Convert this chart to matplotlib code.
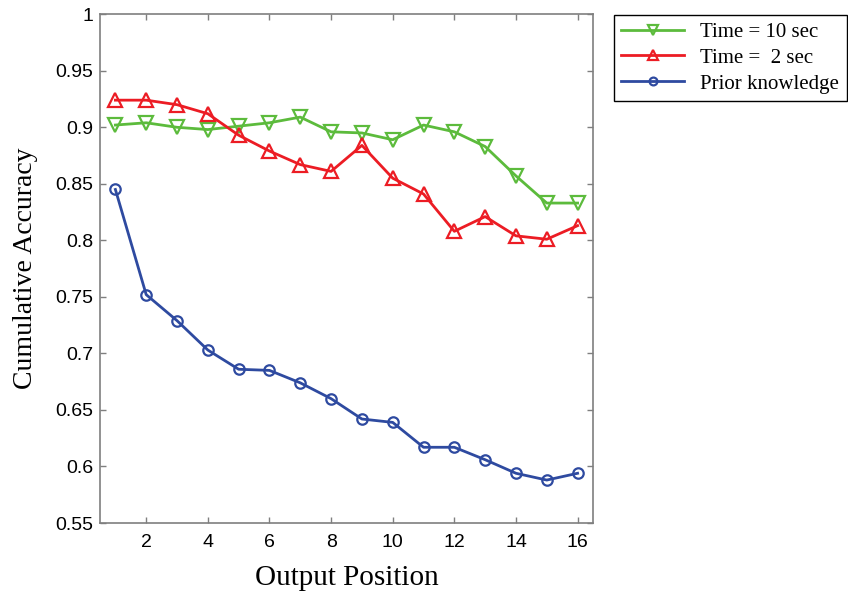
import matplotlib
matplotlib.use("Agg")

import matplotlib.pyplot as plt

positions = list(range(1, 17))

# Time = 10 sec
acc_10s = [0.902, 0.904, 0.900, 0.898, 0.901, 0.904, 0.909, 0.896,
           0.895, 0.889, 0.902, 0.896, 0.883, 0.857, 0.833, 0.833]
# Time = 2 sec
acc_2s = [0.924, 0.924, 0.920, 0.912, 0.893, 0.879, 0.867, 0.861,
          0.884, 0.855, 0.841, 0.808, 0.821, 0.804, 0.801, 0.813]
# Prior knowledge
acc_prior = [0.845, 0.752, 0.729, 0.703, 0.686, 0.685, 0.674, 0.660,
             0.642, 0.639, 0.617, 0.617, 0.606, 0.594, 0.588, 0.594]

labels = ["Time = 10 sec", "Time =  2 sec", "Prior knowledge"]
xticks = [2, 4, 6, 8, 10, 12, 14, 16]
yticks = [0.55, 0.6, 0.65, 0.7, 0.75, 0.8, 0.85, 0.9, 0.95, 1]
yticklabels = ["0.55", "0.6", "0.65", "0.7", "0.75", "0.8", "0.85", "0.9", "0.95", "1"]

GREEN = "#5cbb3c"
RED = "#ec1c24"
BLUE = "#2e4aa0"
GRAY = "#7f7f7f"


def main():
    fig = plt.figure(figsize=(8.48, 5.93), dpi=100)
    ax = fig.add_axes([0.1179, 0.118, 0.5814, 0.858])

    ax.plot(positions, acc_10s, color=GREEN, lw=2, marker="v", ms=10,
            mfc="none", mec=GREEN, mew=1.6, label=labels[0])
    ax.plot(positions, acc_2s, color=RED, lw=2, marker="^", ms=10,
            mfc="none", mec=RED, mew=1.6, label=labels[1])
    ax.plot(positions, acc_prior, color=BLUE, lw=2, marker="o", ms=7.5,
            mfc="none", mec=BLUE, mew=1.6, label=labels[2])

    ax.set_xlim(0.5, 16.5)
    ax.set_ylim(0.55, 1)
    ax.set_xticks(xticks)
    ax.set_yticks(yticks)
    ax.set_yticklabels(yticklabels)

    for s in ax.spines.values():
        s.set_color(GRAY)
        s.set_linewidth(1.2)
    ax.tick_params(direction="in", length=4, width=1, color=GRAY,
                   top=True, right=True, labelsize=14,
                   labelfontfamily="Liberation Sans")
    ax.tick_params(axis="y", pad=5)
    ax.tick_params(axis="x", pad=8)

    ax.set_xlabel("Output Position", family="Liberation Serif", fontsize=21,
                  labelpad=10)
    ax.set_ylabel("Cumulative Accuracy", family="Liberation Serif", fontsize=20,
                  labelpad=12)

    leg = fig.legend(loc="upper left", bbox_to_anchor=(614 / 848, 1 - 15 / 593),
                     prop={"family": "Liberation Serif", "size": 15},
                     handlelength=3, handletextpad=0.8, borderpad=0.35,
                     labelspacing=0.3, borderaxespad=0, fancybox=False,
                     framealpha=1, markerscale=0.75)
    leg.get_frame().set_edgecolor("black")
    leg.get_frame().set_linewidth(1)

    fig.savefig("out.png", dpi=100)


if __name__ == "__main__":
    main()
